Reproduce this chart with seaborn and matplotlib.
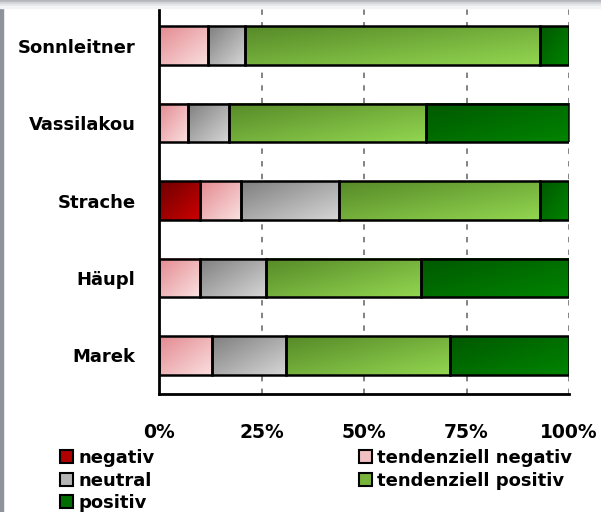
import numpy as np
import pandas as pd
import seaborn as sns
import matplotlib.pyplot as plt
from matplotlib.colors import LinearSegmentedColormap
from matplotlib.patches import Patch, Rectangle

# Anteile in Prozent je Politiker
politiker = ['Sonnleitner', 'Vassilakou', 'Strache', 'Häupl', 'Marek']
negativ = [0, 0, 10, 0, 0]
tend_negativ = [12, 7, 10, 10, 13]
neutral = [9, 10, 24, 16, 18]
tend_positiv = [72, 48, 49, 38, 40]
positiv = [7, 35, 7, 36, 29]

serien = ['negativ', 'tendenziell negativ', 'neutral', 'tendenziell positiv', 'positiv']
werte = [negativ, tend_negativ, neutral, tend_positiv, positiv]
# (dunkel, hell) fuer den Verlauf, dazu Legendenfarbe
verlauf = [('#6e0000', '#cc0000'), ('#e48a90', '#fae0e0'), ('#7f7f7f', '#d6d6d6'),
           ('#578a28', '#92d650'), ('#005800', '#008400')]
legfarbe = ['#b00000', '#f2c0c2', '#b4b4b4', '#78b43c', '#006e00']

sns.set_style('white')
plt.rcParams['font.family'] = ['DejaVu Sans']
plt.rcParams['font.weight'] = 'bold'
plt.rcParams['text.color'] = 'black'
plt.rcParams['xtick.labelcolor'] = 'black'
plt.rcParams['ytick.labelcolor'] = 'black'

fig = plt.figure(figsize=(6.01, 5.12), dpi=100)
fig.patch.set_facecolor('white')
# grauer Rand wie im Screenshot
fig.patches.append(Rectangle((0, 0), 3 / 601, 1, transform=fig.transFigure, color='#8d929b', zorder=0))
for i, c in enumerate(['#b4b7bc', '#d2d4d7', '#e6e7e9', '#f3f4f5']):
    fig.patches.append(Rectangle((0, 1 - (i + 1) * 2 / 512), 1, 2 / 512, transform=fig.transFigure,
                                 color=c, zorder=0))

ax = fig.add_axes([159 / 601, 1 - 394 / 512, 410 / 601, 387 / 512])

df = pd.DataFrame({'politiker': politiker})
links = np.zeros(len(politiker))
for name, vals, (dunkel, hell) in zip(serien, werte, verlauf):
    df['wert'] = vals
    n_vorher = len(ax.patches)
    sns.barplot(data=df, x='wert', y='politiker', order=politiker, orient='h', color=hell,
                left=links.copy(), width=0.5, edgecolor='black', linewidth=1.8, ax=ax, zorder=2)
    cmap = LinearSegmentedColormap.from_list(name, [dunkel, hell])
    for p in ax.patches[n_vorher:]:
        bb = p.get_bbox()
        if bb.width <= 0:
            p.set_visible(False)
            continue
        u = np.linspace(0, 1, 60)
        grad = (u[None, :] + u[:, None]) / 2
        ax.imshow(grad, cmap=cmap, extent=(bb.x0, bb.x1, bb.y0, bb.y1), origin='lower',
                  aspect='auto', interpolation='bilinear', zorder=1.9, vmin=0, vmax=1)
        p.set_facecolor('none')
    links = links + np.array(vals)

ax.set_xlim(0, 100)
ax.set_ylim(len(politiker) - 0.5, -0.5)
ax.set_xticks([0, 25, 50, 75, 100])
ax.set_xticklabels(['0%', '25%', '50%', '75%', '100%'])
ax.set_xlabel('')
ax.set_ylabel('')
ax.set_yticks(np.arange(-0.5, len(politiker), 1), minor=True)
ax.tick_params(axis='y', which='major', length=0, pad=17, labelsize=13)
ax.tick_params(axis='y', which='minor', length=5, width=1.8, direction='out', color='black')
ax.tick_params(axis='x', length=4, width=1.2, direction='in', pad=21, labelsize=13.5, color='#606060')
for lab in ax.get_xticklabels() + ax.get_yticklabels():
    lab.set_fontweight('bold')
    lab.set_color('black')

ax.grid(axis='x', color='#7a7a7a', linestyle=(0, (3, 4)), linewidth=1.3)
ax.set_axisbelow(True)
for s in ['top', 'right']:
    ax.spines[s].set_visible(False)
for s in ['left', 'bottom']:
    ax.spines[s].set_color('black')
    ax.spines[s].set_linewidth(2)

handles = [Patch(facecolor=c, edgecolor='black', linewidth=1.5, label=s) for s, c in zip(serien, legfarbe)]
leg_kw = dict(loc='upper left', frameon=False, handlelength=0.7, handleheight=0.7,
              handletextpad=0.3, labelspacing=0.25, borderpad=0, borderaxespad=0,
              prop={'weight': 'bold', 'size': 13}, labelcolor='black')
fig.legend(handles=[handles[0], handles[2], handles[4]], bbox_to_anchor=(60 / 601, 1 - 449 / 512), **leg_kw)
fig.legend(handles=[handles[1], handles[3]], bbox_to_anchor=(359 / 601, 1 - 449 / 512), **leg_kw)

fig.savefig('out.png', dpi=100)
